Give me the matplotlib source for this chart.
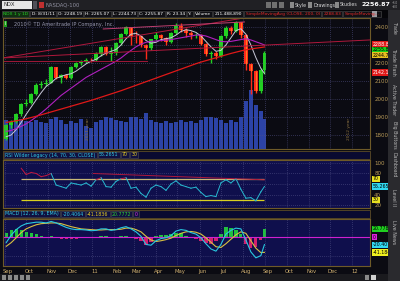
import matplotlib
matplotlib.use("Agg")
import matplotlib.pyplot as plt
import matplotlib.dates as mdates
import numpy as np
import pandas as pd

W, H = 400, 281

# weekly bars, Sep 2010 - Aug 2011 (last bar is Aug 31)
dates = list(pd.date_range("2010-09-03", "2011-08-26", freq="W-FRI")) + [pd.Timestamp("2011-08-31")]
opens = [1779, 1855, 1871, 1914, 1972, 1980, 2027, 2079, 2083, 2091, 2175, 2118, 2131,
         2119, 2180, 2199, 2207, 2218, 2217, 2251, 2288, 2252, 2253, 2313, 2362, 2398,
         2352, 2349, 2302, 2283, 2333, 2357, 2338, 2317, 2365, 2406, 2382, 2364, 2355,
         2357, 2307, 2249, 2253, 2240, 2349, 2394, 2378, 2425, 2353, 2194, 2153, 2044, 2161]
closes = [1855, 1871, 1914, 1972, 1980, 2027, 2079, 2083, 2091, 2175, 2118, 2131, 2119,
          2180, 2199, 2207, 2218, 2217, 2251, 2288, 2252, 2253, 2313, 2362, 2398, 2352,
          2349, 2302, 2283, 2333, 2357, 2338, 2317, 2365, 2406, 2382, 2364, 2355, 2357,
          2307, 2249, 2253, 2240, 2349, 2394, 2378, 2425, 2353, 2194, 2153, 2044, 2161, 2256]
highs = [1862, 1885, 1922, 1975, 2000, 2035, 2090, 2100, 2110, 2185, 2180, 2140, 2140,
         2185, 2205, 2215, 2225, 2228, 2260, 2292, 2295, 2290, 2318, 2365, 2405, 2400,
         2375, 2350, 2305, 2336, 2370, 2360, 2345, 2370, 2420, 2420, 2395, 2375, 2365,
         2360, 2312, 2265, 2265, 2356, 2405, 2405, 2432, 2430, 2360, 2200, 2160, 2170, 2265]
lows = [1770, 1840, 1865, 1905, 1960, 1970, 2020, 2060, 2070, 2090, 2110, 2090, 2110,
        2110, 2170, 2190, 2200, 2205, 2210, 2240, 2245, 2210, 2245, 2300, 2355, 2300,
        2310, 2290, 2220, 2270, 2330, 2320, 2300, 2310, 2360, 2370, 2345, 2335, 2340,
        2300, 2240, 2200, 2220, 2235, 2340, 2360, 2370, 2340, 2160, 2030, 2035, 2035, 2140]
sma200 = [1870, 1874, 1879, 1884, 1890, 1897, 1904, 1912, 1920, 1928, 1936, 1944, 1952,
          1960, 1968, 1976, 1984, 1992, 2001, 2010, 2019, 2028, 2037, 2046, 2056, 2066,
          2076, 2086, 2096, 2106, 2116, 2126, 2136, 2146, 2156, 2166, 2176, 2186, 2196,
          2205, 2213, 2221, 2229, 2237, 2245, 2253, 2260, 2267, 2273, 2278, 2282, 2286, 2289]
sma_mid = [1820, 1825, 1835, 1848, 1862, 1880, 1900, 1922, 1945, 1970, 1995, 2020, 2040,
           2060, 2080, 2100, 2120, 2135, 2150, 2165, 2180, 2195, 2210, 2228, 2250, 2270,
           2290, 2305, 2315, 2320, 2322, 2325, 2327, 2330, 2335, 2340, 2345, 2350, 2355,
           2355, 2350, 2340, 2330, 2320, 2318, 2320, 2325, 2330, 2335, 2328, 2318, 2308, 2300]
sma_fast = [1790, 1800, 1830, 1870, 1915, 1955, 1995, 2035, 2070, 2090, 2115, 2125, 2135,
            2140, 2155, 2175, 2195, 2210, 2220, 2240, 2255, 2265, 2275, 2300, 2335, 2360,
            2365, 2350, 2325, 2310, 2315, 2330, 2335, 2340, 2355, 2375, 2385, 2380, 2370,
            2350, 2320, 2290, 2265, 2270, 2300, 2340, 2380, 2390, 2360, 2300, 2230, 2170, 2142]
volume = [190, 175, 185, 200, 185, 180, 195, 180, 175, 200, 210, 190, 165,
          185, 175, 200, 150, 140, 180, 195, 210, 205, 190, 185, 180, 215,
          210, 200, 240, 190, 180, 175, 185, 170, 180, 195, 180, 185, 170,
          190, 210, 215, 205, 190, 175, 195, 180, 215, 320, 390, 290, 250, 200]
rsi = [90, 78, 82, 80, 74, 76, 80, 58, 55, 52, 62, 60, 58, 62, 56, 68, 72, 55, 54,
       65, 70, 72, 52, 54, 42, 35, 52, 58, 55, 48, 60, 66, 58, 55, 52, 54, 44, 36,
       38, 36, 62, 68, 62, 70, 50, 33, 34, 28, 45, 55.27]
macd = [-15, 5, 20, 30, 36, 38, 40, 40, 38, 42, 38, 32, 26, 22, 20, 20, 19, 17,
        18, 22, 22, 18, 20, 25, 28, 22, 14, 2, -20, -22, -10, -4, -2, 4, 16,
        20, 18, 12, 8, -2, -18, -32, -38, -20, 8, 18, 24, 22, -8, -40, -56, -50, -20.41]
signal = [-25, -15, -2, 12, 22, 28, 33, 36, 37, 38, 38, 36, 32, 28, 25, 22, 21, 20,
          19, 19, 20, 20, 20, 21, 24, 24, 20, 14, 2, -8, -12, -10, -7, -3, 4,
          10, 14, 15, 13, 8, -2, -14, -26, -28, -18, -6, 6, 14, 10, -10, -30, -42, -41.18]
macd_diff = [10, 20, 22, 18, 14, 10, 7, 4, 1, 4, 0, -4, -6, -6, -5, -2, -2, -3,
             -1, 3, 2, -2, 0, 4, 4, -2, -6, -12, -22, -14, 2, 6, 5, 7, 12,
             10, 4, -3, -5, -10, -16, -18, -12, 8, 26, 24, 18, 8, -18, -30, -26, -8, 20.78]
months = ["Sep", "Oct", "Nov", "Dec", "11", "Feb", "Mar", "Apr", "May", "Jun", "Jul",
          "Aug", "Sep", "Oct", "Nov", "Dec", "12"]
month_starts = pd.date_range("2010-09-01", "2012-01-01", freq="MS")

BG = "#0f0f4c"
FRAME = "#6e5a28"
GRID = "#55558a"
TICK = "#b89a58"
NARROW = ["Liberation Sans Narrow", "DejaVu Sans"]
x0, x1 = mdates.date2num(pd.Timestamp("2010-08-29 12:00")), mdates.date2num(pd.Timestamp("2012-01-26"))
xd = mdates.date2num(dates)


def rect(l, t, r, b):
    return [l / W, 1 - b / H, (r - l) / W, (b - t) / H]


def ftxt(x, y, s, **kw):
    kw.setdefault("fontsize", 4)
    kw.setdefault("va", "center")
    return fig.text(x / W, 1 - y / H, s, **kw)


def fbox(l, t, r, b, fc, ec="none", lw=0.5):
    fig.patches.append(plt.Rectangle((l / W, 1 - b / H), (r - l) / W, (b - t) / H,
                                     transform=fig.transFigure, fc=fc, ec=ec, lw=lw))


def field_row(x, y, items, size=3.6):
    # boxed header fields laid out one after the other
    rend = fig.canvas.get_renderer()
    for s, tc, fc in items:
        t = ftxt(x + 1.2, y, s, color=tc, fontsize=size, family=NARROW)
        ext = t.get_window_extent(rend)
        fbox(x, y - 3, ext.x1 + 1.2, y + 3, fc, ec="#505050", lw=0.4)
        x = ext.x1 + 2.2


def style(a, ticks, labels):
    a.set_facecolor(BG)
    a.set_xlim(x0, x1)
    for s in a.spines.values():
        s.set_color(FRAME)
        s.set_linewidth(0.8)
    a.set_xticks(mdates.date2num(month_starts))
    a.tick_params(axis="x", length=0, labelbottom=False)
    a.yaxis.tick_right()
    a.set_yticks(ticks)
    a.set_yticklabels(labels)
    a.tick_params(axis="y", length=0, pad=3, labelsize=4, labelcolor=TICK)
    a.grid(True, color=GRID, ls=(0, (1, 2)), lw=0.5)


def tag(a, val, s, fc, tc="black"):
    a.text(1.008, val, s, transform=a.get_yaxis_transform(), fontsize=3.4, color=tc,
           family=NARROW, va="center", ha="left", bbox=dict(fc=fc, ec="none", pad=0.5))


fig = plt.figure(figsize=(4, 2.81), dpi=100, facecolor="#0b0b12")

# top toolbar and header row
fbox(0, 0, 400, 10, "#202024")
fbox(2, 1, 32, 9, "#e6e6e6")
ftxt(4, 5, "NDX", color="#303030", fontsize=3.8)
fbox(33, 1, 37, 9, "#505058")
fbox(39, 2, 44, 8, "#c03030")
ftxt(46, 5, "NASDAQ-100", color="#9090a0", fontsize=3.8)
for bx, lab in [(290, "Style"), (308, "Drawings"), (335, "Studies")]:
    fbox(bx, 2, bx + 4, 8, "#8a8a8a")
    ftxt(bx + 5, 5, lab, color="#d8d8d8", fontsize=3.4, family=NARROW)
for bx in (266, 272, 279):
    fbox(bx, 2, bx + 5, 8, "#707070")
ftxt(361, 5, "2256.87", color="white", fontsize=4.6, weight="bold", family=NARROW)
ftxt(392, 5, "+1.0\n+0.0", color="#c0c0c0", fontsize=1.8, linespacing=1.0)

fbox(0, 10, 400, 18, "#050508")
field_row(2, 14, [("NDX 1 y 1D", "#2ad02a", "#103010"), ("D: 8/31/11", "white", "#101014"),
                  ("O: 2248.19", "white", "#101014"), ("H: 2265.07", "white", "#101014"),
                  ("L: 2244.73", "white", "#101014"), ("C: 2255.87", "white", "#101014"),
                  ("R: 23.34", "white", "#101014"), ("Y:", "white", "#101014"),
                  ("Volume", "white", "#101014"), ("211,488,890", "white", "#101014"),
                  ("SimpleMovingAvg (CLOSE, 200, 0)", "#e02828", "#101014"),
                  ("2288.83", "#e02828", "#101014"), ("SimpleMoving...", "#e02828", "#101014")],
          size=3.2)
fbox(372, 11, 377, 17, "#9a9aa0")

# right side strip
fbox(388, 10, 400, 281, "#2a2a2e")
for yy, s in [(28, "Trade"), (62, "Trade Flash"), (100, "Active Trader"), (135, "Big Buttons"),
              (165, "Dashboard"), (197, "Level II"), (232, "Live News")]:
    ftxt(394, yy, s, color="#b8b8b8", fontsize=3.4, rotation=270, ha="center", family=NARROW)

# main price panel with volume behind
axv = fig.add_axes(rect(3, 18, 370, 149))
axv.set_facecolor(BG)
axv.bar(xd, volume, width=5.5, color="#2c43a6", lw=0)
axv.set_ylim(0, 870)
axv.set_xlim(x0, x1)
axv.axis("off")

ax = fig.add_axes(rect(3, 18, 370, 149))
style(ax, [1800, 1900, 2000, 2100, 2200, 2300, 2400],
      ["1800", "1900", "2000", "2100", "2200", "", "2400"])
ax.set_facecolor("none")
ax.set_ylim(1722, 2450)
up = np.array(closes) >= np.array(opens)
cols = np.where(up, "#22d022", "#ff2a1a")
ax.vlines(xd, lows, highs, colors=cols, lw=1.0)
ax.bar(xd, np.array(closes) - np.array(opens), bottom=opens, width=5.0, color=cols, lw=0)
ax.vlines(xd[~up], np.array(closes)[~up], np.array(opens)[~up], colors="#ffa020", lw=0.5)
ax.plot(xd, sma_fast, color="#c8c8d8", lw=0.7)
ax.plot(xd, sma_mid, color="#b020c0", lw=0.8)
ax.plot(xd, sma200, color="#e01818", lw=0.9)
# drawn trend lines
tl = [("2010-08-29", 2228, "2011-07-27", 2446, "#b0183c"),
      ("2011-01-17", 2389, "2011-08-03", 2428, "#c04070"),
      ("2010-08-29", 2228, "2012-01-26", 2328, "#b0183c"),
      ("2010-08-29", 2211, "2011-03-20", 2211, "#a01838")]
for d0, p0, d1, p1, c in tl:
    ax.plot(mdates.date2num([pd.Timestamp(d0), pd.Timestamp(d1)]), [p0, p1], color=c, lw=0.7)
tag(ax, 2302, "2288.83", "#e01818", "white")
tag(ax, 2273, "2255.87", "#18d018")
tag(ax, 2244, "2244.73", "#e8c020")
tag(ax, 2146, "2142.1", "#e01818", "white")
ax.text(0.005, 0.975, "i", transform=ax.transAxes, fontsize=3.5, color="white", va="top",
        bbox=dict(fc="#20a020", ec="none", pad=0.4))
ax.text(0.03, 0.975, "2010© TD Ameritrade IP Company, Inc.", transform=ax.transAxes,
        fontsize=3.6, color="#9898b0", va="top", family=NARROW)
for d, s in [("2010-12-27", "2011 year"), ("2011-12-27", "2012 year")]:
    ax.text(mdates.date2num(pd.Timestamp(d)), 1770, s, rotation=90, fontsize=3.2,
            color="#8a7040", ha="center", va="bottom", family=NARROW)

# RSI panel
fbox(3, 151, 370, 159, "#0a0a30", ec=FRAME, lw=0.5)
field_row(4, 155, [("RSI Wilder Legacy (14, 70, 30, CLOSE)", "#30c8e0", "#101040"),
                   ("55.2651", "#30c8e0", "#101040"), ("70", "#e8d020", "#101040"),
                   ("30", "#e8d020", "#101040")], size=3.4)
axr = fig.add_axes(rect(3, 160, 370, 208))
style(axr, [20, 40, 60, 80, 100], ["20", "40", "", "80", "100"])
axr.set_ylim(14.3, 105.7)
rd = xd[3:]
axr.hlines(70, rd[0], rd[-1], color="#c8b878", lw=0.9)
axr.hlines(30, rd[0], rd[-1], color="#d8d020", lw=0.9)
for i in range(len(rsi) - 1):
    c = "#c01840" if (rsi[i] + rsi[i + 1]) / 2 >= 70 else "#28b8d0"
    axr.plot(rd[i:i + 2], rsi[i:i + 2], color=c, lw=0.7)
axr.plot(mdates.date2num([pd.Timestamp("2011-01-03"), pd.Timestamp("2011-08-31")]), [80, 68],
         color="#b0183c", lw=0.7)
tag(axr, 70, "70", "#e8e020")
tag(axr, 55.27, "55.265", "#30d8f0")
tag(axr, 30, "30", "#e8e020")

# MACD panel
fbox(3, 210, 370, 218, "#0a0a30", ec=FRAME, lw=0.5)
field_row(4, 214, [("MACD (12, 26, 9, EMA)", "#30c8e0", "#101040"),
                   ("-20.4064", "#30c8e0", "#101040"), ("-41.1836", "#e8d020", "#101040"),
                   ("20.7772", "#30d030", "#101040"), ("0", "#e030e0", "#101040")], size=3.4)
axm = fig.add_axes(rect(3, 219, 370, 266))
style(axm, [-50, 50], ["", "50"])
axm.set_ylim(-78, 48.6)
hd = np.array(macd_diff)
axm.bar(xd, hd, width=4.5, color=np.where(hd >= 0, "#20c040", "#d02070"), lw=0)
axm.axhline(0, color="#d020d0", lw=0.8)
axm.plot(xd, signal, color="#d8c040", lw=0.8)
axm.plot(xd, macd, color="#28c8e0", lw=0.8)
tag(axm, 22, "20.778", "#20d020")
tag(axm, 0, "0", "#e020e0")
tag(axm, -21, "-20.407", "#30d8f0")
tag(axm, -42, "-41.184", "#f0f020")
for m, s in zip(month_starts, months):
    axm.text(mdates.date2num(m) + 4, -0.06, s, transform=axm.get_xaxis_transform(),
             fontsize=3.8, color="#d0b070", ha="center", va="top")

# bottom toolbar
fbox(0, 274, 388, 281, "#1a1a1e")
for bx in (2, 8, 14, 20, 26):
    fbox(bx, 275, bx + 4, 280, "#8a8a8a")
fbox(365, 275, 369, 280, "#8a8a8a")
fbox(371, 275, 376, 280, "#d0d0d0")

fig.savefig("out.png", dpi=100, facecolor=fig.get_facecolor())
